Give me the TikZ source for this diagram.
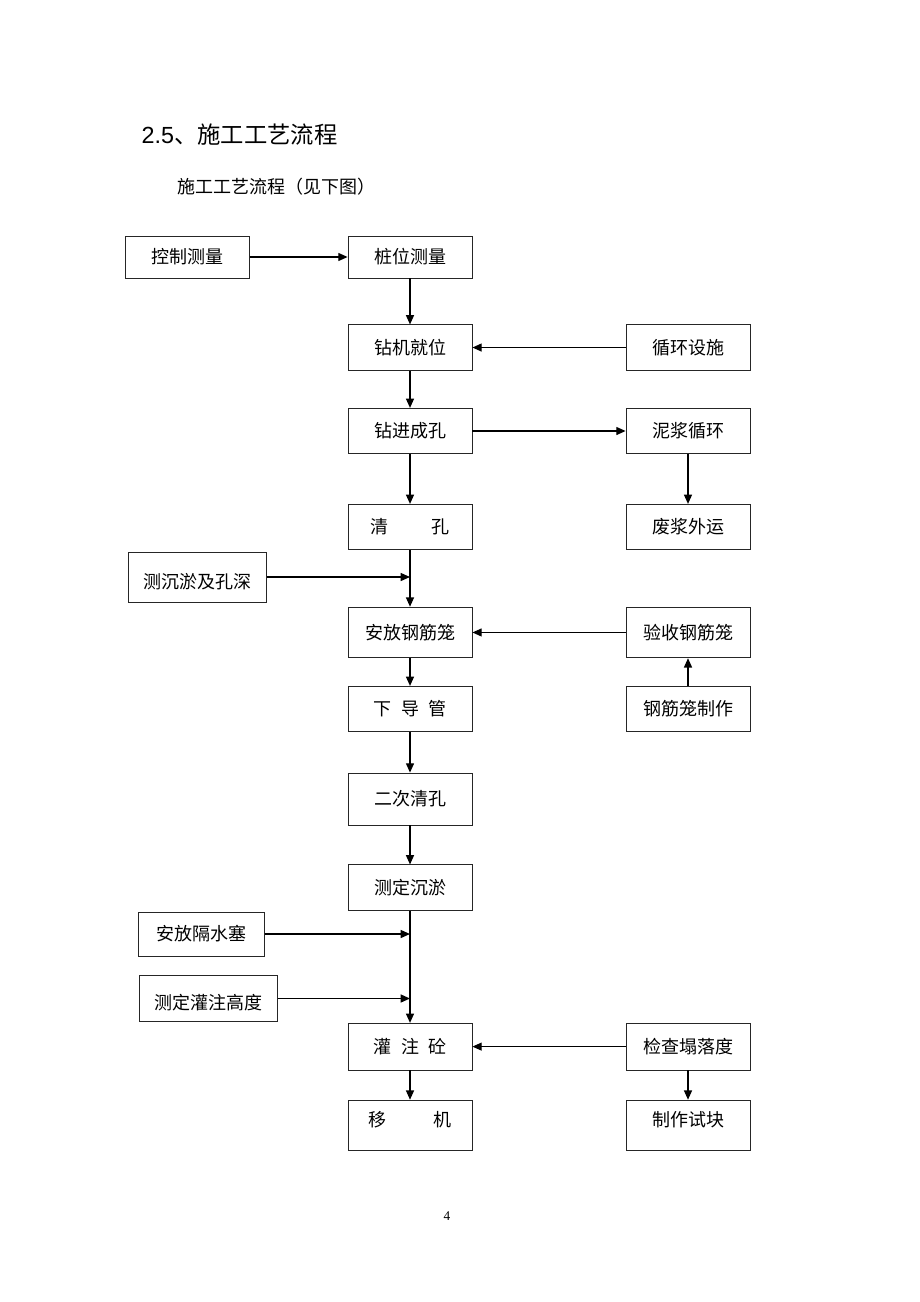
\documentclass[tikz,border=0pt]{standalone}
\usepackage{fontspec}
\setmainfont{Liberation Serif}
\newfontfamily\cjk{Noto Sans CJK SC}
\newfontfamily\headfont{Liberation Sans}
\usetikzlibrary{positioning,arrows.meta}

\tikzset{
  stepbox/.style={draw=black!85, line width=0.6pt, minimum width=93pt,
    minimum height=34pt, inner sep=0pt, font=\cjk\fontsize{13.5}{16}\selectfont},
  widebox/.style={minimum width=104pt},
  flow/.style={-{Triangle[length=7pt,width=6pt]}, line width=1pt},
}

\begin{document}
\begin{tikzpicture}[x=0.75pt,y=-0.75pt,on grid]
\useasboundingbox (0,0) rectangle (920,1302);

\node[anchor=west, font=\fontsize{17.5}{20}\selectfont] (title) at (137,135)
  {{\headfont 2.5}{\cjk 、施工工艺流程}};
\node[anchor=west, font=\cjk\fontsize{13.5}{16}\selectfont] (intro) at (173,187)
  {施工工艺流程（见下图）};

% main column
\node[stepbox, minimum height=31.5pt] (zwcl) at (410,257) {桩位测量};
\node[stepbox] (zjjw) [below=67.9pt of zwcl] {钻机就位};
\node[stepbox] (zjck) [below=62.6pt of zjjw] {钻进成孔};
\node[stepbox] (qk) [below=72pt of zjck] {清\hspace{2.4em}孔};
\node[stepbox, minimum height=38pt] (afgjl) [below=79.1pt of qk] {安放钢筋笼};
\node[stepbox] (xdg) [below=57.4pt of afgjl] {下\hspace{0.55em}导\hspace{0.55em}管};
\node[stepbox, minimum height=39pt] (ecqk) [below=67.5pt of xdg] {二次清孔};
\node[stepbox] (cdcy) [below=66.4pt of ecqk] {测定沉淤};
\node[stepbox, minimum height=35pt] (gzt) [below=119.3pt of cdcy] {灌\hspace{0.55em}注\hspace{0.55em}砼};
\node[stepbox, minimum height=37.5pt, text depth=10pt] (yj) [below=58.9pt of gzt] {移\hspace{2.6em}机};

% side boxes
\node[stepbox, minimum height=31.5pt] (kzcl) [left=166.9pt of zwcl] {控制测量};
\node[stepbox] (xhss) [right=208.5pt of zjjw] {循环设施};
\node[stepbox] (njxh) [right=208.5pt of zjck] {泥浆循环};
\node[stepbox] (fjwy) [right=208.5pt of qk] {废浆外运};
\node[stepbox, minimum height=38pt] (ysgjl) [right=208.5pt of afgjl] {验收钢筋笼};
\node[stepbox] (gjlzz) [right=208.5pt of xdg] {钢筋笼制作};
\node[stepbox, minimum height=35pt] (jctld) [right=208.5pt of gzt] {检查塌落度};
\node[stepbox, minimum height=37.5pt, text depth=10pt] (zzsk) [right=208.5pt of yj] {制作试块};

% feeders on the left
\node[stepbox, widebox, minimum height=37.5pt, text height=18pt] (ccy) at (197.5,577) {测沉淤及孔深};
\node[stepbox, minimum width=94pt, minimum height=33pt] (afgss) at (201.5,934) {安放隔水塞};
\node[stepbox, widebox, minimum height=34pt, text height=17pt] (cdgzgd) at (208.5,998.5) {测定灌注高度};

\draw[flow] (kzcl) -- (zwcl);
\draw[flow] (zwcl) -- (zjjw);
\draw[flow] (xhss) -- (zjjw);
\draw[flow] (zjjw) -- (zjck);
\draw[flow] (zjck) -- (njxh);
\draw[flow] (njxh) -- (fjwy);
\draw[flow] (zjck) -- (qk);
\draw[flow] (qk) -- (afgjl);
\draw[flow] (ccy) -- (ccy -| qk);
\draw[flow] (ysgjl) -- (afgjl);
\draw[flow] (gjlzz) -- (ysgjl);
\draw[flow] (afgjl) -- (xdg);
\draw[flow] (xdg) -- (ecqk);
\draw[flow] (ecqk) -- (cdcy);
\draw[flow] (cdcy) -- (gzt);
\draw[flow] (afgss) -- (afgss -| cdcy);
\draw[flow] (cdgzgd) -- (cdgzgd -| cdcy);
\draw[flow] (jctld) -- (gzt);
\draw[flow] (gzt) -- (yj);
\draw[flow] (jctld) -- (zzsk);

\node (pageno) at (447,1216) {\fontsize{10}{12}\selectfont 4};
\end{tikzpicture}
\end{document}
